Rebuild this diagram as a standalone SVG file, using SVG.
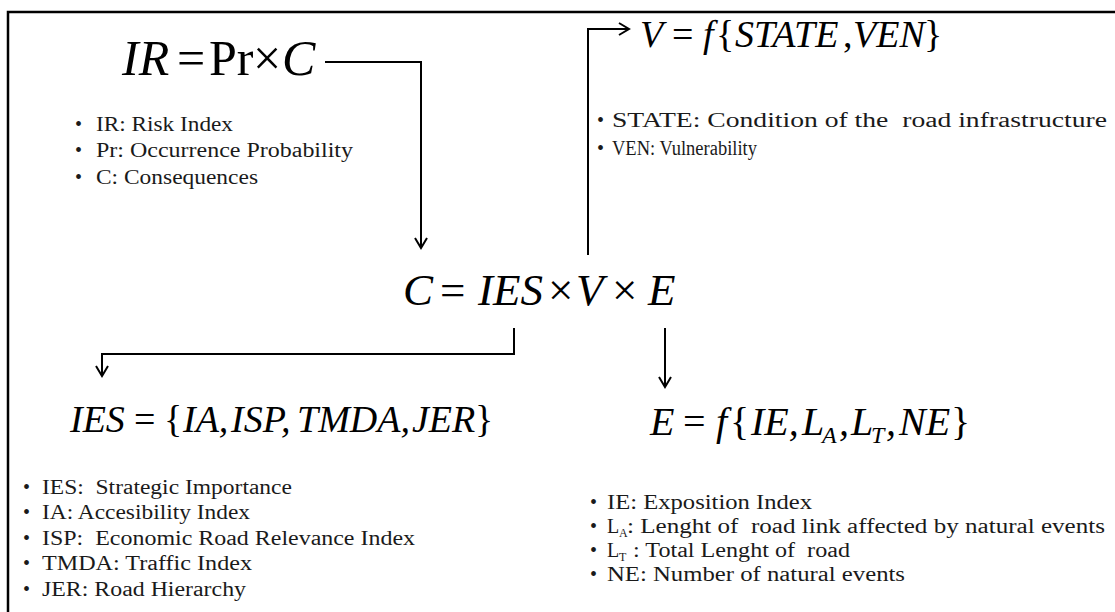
<svg xmlns="http://www.w3.org/2000/svg" width="1115" height="612" viewBox="0 0 1115 612">
<defs>
<style>
.f{font-family:"Liberation Serif","Times New Roman",serif;fill:#000}
.i{font-style:italic}
.b{font-family:"Liberation Serif","Times New Roman",serif;font-size:20px;fill:#1a1a1a}
.s{font-family:"Liberation Serif","Times New Roman",serif;font-size:12px;fill:#1a1a1a}
.ln{fill:none;stroke:#000;stroke-width:2}
</style>
<marker id="ah" markerUnits="userSpaceOnUse" markerWidth="14" markerHeight="14" viewBox="0 0 14 14" refX="12" refY="7" orient="auto">
<path d="M2,1 L12,7 L2,13" fill="none" stroke="#000" stroke-width="2"/>
</marker>
</defs>
<rect width="1115" height="612" fill="#fff"/>
<path d="M8,612 V12 H1115" fill="none" stroke="#000" stroke-width="2.5"/>

<g id="connectors">
<path class="ln" d="M325,62 H421 V248" marker-end="url(#ah)"/>
<path class="ln" d="M588,255 V29 H629" marker-end="url(#ah)"/>
<path class="ln" d="M514,328 V354 H102 V376" marker-end="url(#ah)"/>
<path class="ln" d="M665,328 V387" marker-end="url(#ah)"/>
</g>

<g id="risk">
<text class="f" font-size="50" y="75"><tspan class="i" x="122">IR</tspan><tspan x="177">=</tspan><tspan x="209">Pr</tspan><tspan x="253">×</tspan><tspan class="i" x="282">C</tspan></text>
<text class="b"><tspan x="75" y="131">•</tspan><tspan x="75" y="157">•</tspan><tspan x="75" y="184">•</tspan></text>
<text class="b" x="96" y="131" textLength="137" lengthAdjust="spacingAndGlyphs">IR: Risk Index</text>
<text class="b" x="96" y="157" textLength="257" lengthAdjust="spacingAndGlyphs">Pr: Occurrence Probability</text>
<text class="b" x="96" y="184" textLength="162" lengthAdjust="spacingAndGlyphs">C: Consequences</text>
</g>

<g id="vulnerability">
<text class="f" font-size="38" y="47"><tspan class="i" x="640">V</tspan><tspan x="672">=</tspan><tspan class="i" x="703">f</tspan><tspan x="716">{</tspan><tspan class="i" x="735">STATE</tspan><tspan x="843">,</tspan><tspan class="i" x="853">VEN</tspan><tspan x="924">}</tspan></text>
<text class="b"><tspan x="597" y="127">•</tspan><tspan x="597" y="155">•</tspan></text>
<text class="b" x="612" y="127" textLength="495" lengthAdjust="spacingAndGlyphs" xml:space="preserve">STATE: Condition of the  road infrastructure</text>
<text class="b" x="612" y="155" textLength="145" lengthAdjust="spacingAndGlyphs">VEN: Vulnerability</text>
</g>

<g id="consequences">
<text class="f" font-size="45" y="305"><tspan class="i" x="403">C</tspan><tspan x="440">=</tspan><tspan class="i" x="478">IES</tspan><tspan x="548">×</tspan><tspan class="i" x="576">V</tspan><tspan x="612">×</tspan><tspan class="i" x="648">E</tspan></text>
</g>

<g id="strategic">
<text class="f" font-size="38" y="432"><tspan class="i" x="70">IES</tspan><tspan x="134">=</tspan><tspan x="164">{</tspan><tspan class="i" x="183">IA,</tspan><tspan class="i" x="231">ISP,</tspan><tspan class="i" x="297">TMDA,</tspan><tspan class="i" x="412">JER</tspan><tspan x="475">}</tspan></text>
<text class="b"><tspan x="23" y="494">•</tspan><tspan x="23" y="519">•</tspan><tspan x="23" y="545">•</tspan><tspan x="23" y="570">•</tspan><tspan x="23" y="596">•</tspan></text>
<text class="b" x="42" y="494" textLength="250" lengthAdjust="spacingAndGlyphs" xml:space="preserve">IES:  Strategic Importance</text>
<text class="b" x="42" y="519" textLength="208" lengthAdjust="spacingAndGlyphs">IA: Accesibility Index</text>
<text class="b" x="42" y="545" textLength="373" lengthAdjust="spacingAndGlyphs" xml:space="preserve">ISP:  Economic Road Relevance Index</text>
<text class="b" x="42" y="570" textLength="210" lengthAdjust="spacingAndGlyphs">TMDA: Traffic Index</text>
<text class="b" x="42" y="596" textLength="204" lengthAdjust="spacingAndGlyphs">JER: Road Hierarchy</text>
</g>

<g id="exposition">
<text class="f" font-size="40" y="435"><tspan class="i" x="650">E</tspan><tspan x="683">=</tspan><tspan class="i" x="716">f</tspan><tspan x="730">{</tspan><tspan class="i" x="751">IE,</tspan><tspan class="i" x="802">L</tspan><tspan class="i" font-size="24" x="822" dy="8">A</tspan><tspan class="i" x="839" dy="-8">,</tspan><tspan class="i" x="851">L</tspan><tspan class="i" font-size="24" x="871" dy="8">T</tspan><tspan class="i" x="886" dy="-8">,</tspan><tspan class="i" x="899">NE</tspan><tspan x="951">}</tspan></text>
<text class="b"><tspan x="590" y="509">•</tspan><tspan x="590" y="533">•</tspan><tspan x="590" y="557">•</tspan><tspan x="590" y="581">•</tspan></text>
<text class="b" x="607" y="509" textLength="205" lengthAdjust="spacingAndGlyphs">IE: Exposition Index</text>
<text class="b" x="607" y="533">L</text><text class="s" x="619" y="537">A</text>
<text class="b" x="627" y="533" textLength="478" lengthAdjust="spacingAndGlyphs" xml:space="preserve">: Lenght of  road link affected by natural events</text>
<text class="b" x="607" y="557">L</text><text class="s" x="619" y="561">T</text>
<text class="b" x="627" y="557" textLength="223" lengthAdjust="spacingAndGlyphs" xml:space="preserve"> : Total Lenght of  road</text>
<text class="b" x="607" y="581" textLength="298" lengthAdjust="spacingAndGlyphs">NE: Number of  natural events</text>
</g>
</svg>
